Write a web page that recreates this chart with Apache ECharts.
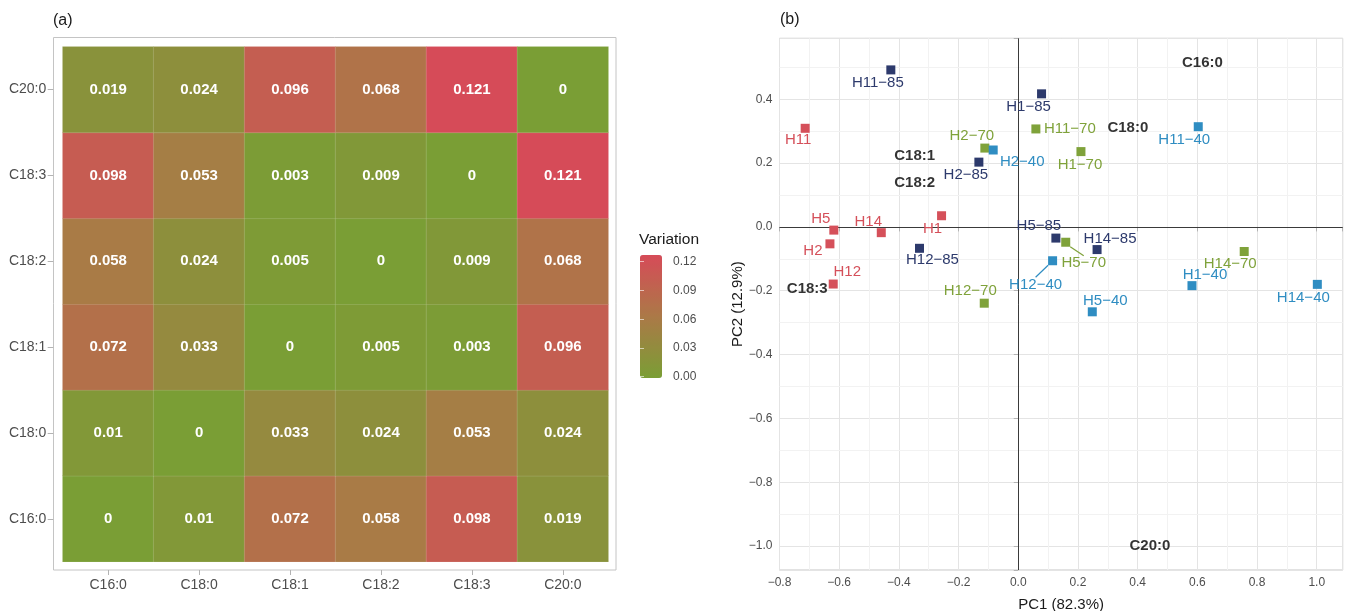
<!DOCTYPE html>
<html><head><meta charset="utf-8">
<script src="https://cdn.jsdelivr.net/npm/echarts@6/dist/echarts.min.js"></script>
<style>html,body{margin:0;padding:0;background:#fff}#c{width:1346px;height:611px}</style>
</head><body><div id="c"></div><script>
const FONT = "'Liberation Sans', Arial, Helvetica, sans-serif";

// ---------- Panel (a): variation heatmap ----------
const fattyAcids = ['C16:0', 'C18:0', 'C18:1', 'C18:2', 'C18:3', 'C20:0'];
// rows listed bottom -> top (same order as fattyAcids), columns left -> right
const rowC16_0 = [0, 0.01, 0.072, 0.058, 0.098, 0.019];
const rowC18_0 = [0.01, 0, 0.033, 0.024, 0.053, 0.024];
const rowC18_1 = [0.072, 0.033, 0, 0.005, 0.003, 0.096];
const rowC18_2 = [0.058, 0.024, 0.005, 0, 0.009, 0.068];
const rowC18_3 = [0.098, 0.053, 0.003, 0.009, 0, 0.121];
const rowC20_0 = [0.019, 0.024, 0.096, 0.068, 0.121, 0];
const variationRows = [rowC16_0, rowC18_0, rowC18_1, rowC18_2, rowC18_3, rowC20_0];
const variationMax = 0.121;
const variationTicks = [0, 0.03, 0.06, 0.09, 0.12];
const variationColors = ['#7A9E35', '#AB7947', '#D64B58'];

// ---------- Panel (b): PCA ----------
const rawNames = ['H11', 'H1', 'H5', 'H14', 'H2', 'H12'];
const rawPC1 = [-0.714, -0.257, -0.618, -0.459, -0.631, -0.620];
const rawPC2 = [0.309, 0.035, -0.010, -0.018, -0.053, -0.179];

const t85Names = ['H11\u221285', 'H1\u221285', 'H2\u221285', 'H12\u221285', 'H5\u221285', 'H14\u221285'];
const t85PC1 = [-0.427, 0.078, -0.132, -0.331, 0.126, 0.264];
const t85PC2 = [0.492, 0.417, 0.203, -0.067, -0.035, -0.071];

const t70Names = ['H11\u221270', 'H2\u221270', 'H1\u221270', 'H12\u221270', 'H5\u221270', 'H14\u221270'];
const t70PC1 = [0.059, -0.112, 0.210, -0.114, 0.159, 0.757];
const t70PC2 = [0.307, 0.247, 0.236, -0.239, -0.048, -0.077];

const t40Names = ['H2\u221240', 'H11\u221240', 'H12\u221240', 'H1\u221240', 'H14\u221240', 'H5\u221240'];
const t40PC1 = [-0.084, 0.603, 0.115, 0.582, 1.002, 0.248];
const t40PC2 = [0.241, 0.314, -0.106, -0.184, -0.180, -0.266];

const loadingNames = ['C16:0', 'C18:0', 'C18:1', 'C18:2', 'C18:3', 'C20:0'];
const loadingPC1 = [0.617, 0.367, -0.347, -0.347, -0.707, 0.441];
const loadingPC2 = [0.515, 0.311, 0.224, 0.139, -0.193, -1.0];

const pcXMinorTicks = [-0.7, -0.5, -0.3, -0.1, 0.1, 0.3, 0.5, 0.7, 0.9];
const pcYMinorTicks = [-0.9, -0.7, -0.5, -0.3, -0.1, 0.1, 0.3, 0.5];

// label placement (styling, pixel offsets of text from its point)
const labelOffsets = {
  'H11': [-7, 12], 'H1': [-9, 13], 'H5': [-13, -11], 'H14': [-13, -11], 'H2': [-17, 7], 'H12': [14, -12],
  'H11\u221285': [-13, 13], 'H1\u221285': [-13, 13], 'H2\u221285': [-13, 13], 'H12\u221285': [13, 12], 'H5\u221285': [-17, -12], 'H14\u221285': [13, -11],
  'H11\u221270': [34, 0], 'H2\u221270': [-13, -12], 'H1\u221270': [-1, 13], 'H12\u221270': [-14, -12], 'H5\u221270': [18, 21], 'H14\u221270': [-14, 12],
  'H2\u221240': [29, 12], 'H11\u221240': [-14, 13], 'H12\u221240': [-17, 24], 'H1\u221240': [13, -11], 'H14\u221240': [-14, 13], 'H5\u221240': [13, -11]
};
const segmentLabels = ['H5\u221270', 'H12\u221240'];

const heatData = [];
variationRows.forEach((row, yi) => row.forEach((v, xi) => heatData.push([xi, yi, v])));

function groupSeries(names, xs, ys, color) {
  return {
    type: 'scatter', xAxisIndex: 1, yAxisIndex: 1, z: 5,
    symbol: 'rect', symbolSize: 9,
    itemStyle: { color: color, opacity: 1 },
    data: names.map((n, i) => {
      const item = { name: n, value: [xs[i], ys[i]] };
      if (segmentLabels.indexOf(n) >= 0) {
        item.labelLine = { show: true, lineStyle: { color: color, width: 1.2, opacity: 1 } };
      }
      return item;
    }),
    label: {
      show: true, position: 'inside', formatter: p => p.name,
      color: color, fontSize: 15, fontFamily: FONT
    },
    labelLayout: p => {
      const n = names[p.dataIndex];
      const o = labelOffsets[n] || [0, 0];
      return { dx: o[0], dy: o[1] };
    },
    emphasis: { disabled: true }
  };
}

const pcTickFmt = v => {
  const k = v / 0.2;
  if (Math.abs(k - Math.round(k)) > 1e-6) return '';
  return v.toFixed(1).replace('-', '\u2212');
};

const axisGrey = '#4d4d4d';
const borderGrey = '#c4c4c4';
const majorGrid = '#e4e4e4';
const minorGrid = '#f2f2f2';

const chart = echarts.init(document.getElementById('c'), null, { renderer: 'canvas' });
chart.setOption({
  animation: false,
  backgroundColor: '#fff',
  textStyle: { fontFamily: FONT },
  title: [
    { text: '(a)', left: 53, top: 13, padding: 0, textStyle: { fontSize: 16, fontWeight: 'normal', color: '#1a1a1a', fontFamily: FONT } },
    { text: '(b)', left: 780, top: 12, padding: 0, textStyle: { fontSize: 16, fontWeight: 'normal', color: '#1a1a1a', fontFamily: FONT } },
    { text: 'Variation', left: 639, top: 232, padding: 0, textStyle: { fontSize: 15.5, fontWeight: 'normal', color: '#1a1a1a', fontFamily: FONT } }
  ],
  grid: [
    { left: 62.7, top: 46.7, width: 545.6, height: 515, outerBoundsMode: 'none', containLabel: false },
    { left: 779.5, top: 38.3, width: 563.2, height: 531.7, show: true, borderColor: borderGrey, borderWidth: 1, backgroundColor: 'transparent', outerBoundsMode: 'none', containLabel: false },
    { left: 640, top: 261.7, width: 22, height: 115, outerBoundsMode: 'none', containLabel: false }
  ],
  xAxis: [
    {
      gridIndex: 0, type: 'category', data: fattyAcids, position: 'bottom', offset: 8.3,
      axisLine: { show: false },
      axisTick: { show: true, alignWithLabel: true, length: 5, lineStyle: { color: '#b3b3b3' } },
      axisLabel: { margin: 8, fontSize: 14, color: axisGrey, fontFamily: FONT },
      splitLine: { show: false }
    },
    {
      gridIndex: 1, type: 'value', min: -0.8, max: 1.087, splitNumber: 9,
      name: 'PC1 (82.3%)', nameLocation: 'middle', nameGap: 27,
      nameTextStyle: { fontSize: 15, color: '#1a1a1a', fontFamily: FONT },
      axisLine: { show: false },
      axisTick: { show: true, length: 4.5, lineStyle: { color: '#b3b3b3' } },
      axisLabel: { margin: 7, fontSize: 12, color: axisGrey, fontFamily: FONT, formatter: pcTickFmt },
      splitLine: { show: true, lineStyle: { color: majorGrid, width: 1 } }
    },
    { gridIndex: 2, type: 'value', show: false, min: 0, max: 1 }
  ],
  yAxis: [
    {
      gridIndex: 0, type: 'category', data: fattyAcids, position: 'left', offset: 9.4,
      axisLine: { show: false },
      axisTick: { show: true, alignWithLabel: true, length: 5.6, lineStyle: { color: '#b3b3b3' } },
      axisLabel: { margin: 7, fontSize: 14, color: axisGrey, fontFamily: FONT },
      splitLine: { show: false }
    },
    {
      gridIndex: 1, type: 'value', min: -1.075, max: 0.591, splitNumber: 9,
      name: 'PC2 (12.9%)', nameLocation: 'middle', nameGap: 34,
      nameTextStyle: { fontSize: 15, color: '#1a1a1a', fontFamily: FONT },
      axisLine: { show: false },
      axisTick: { show: true, length: 4.5, lineStyle: { color: '#b3b3b3' } },
      axisLabel: { margin: 7, fontSize: 12, color: axisGrey, fontFamily: FONT, formatter: pcTickFmt },
      splitLine: { show: true, lineStyle: { color: majorGrid, width: 1 } }
    },
    {
      gridIndex: 2, type: 'value', min: 0, max: 0.12, interval: 0.03, position: 'right', z: 6,
      axisLine: { show: false },
      axisTick: { show: true, inside: true, length: 4, lineStyle: { color: 'rgba(255,255,255,0.6)' } },
      axisLabel: { margin: 11, fontSize: 12, color: axisGrey, fontFamily: FONT, formatter: v => v.toFixed(2) },
      splitLine: { show: false }
    },
    {
      gridIndex: 2, type: 'value', min: 0, max: 0.12, interval: 0.03, position: 'left', z: 6,
      axisLine: { show: false },
      axisTick: { show: true, inside: true, length: 4, lineStyle: { color: 'rgba(255,255,255,0.6)' } },
      axisLabel: { show: false },
      splitLine: { show: false }
    }
  ],
  visualMap: {
    type: 'continuous', seriesIndex: 0, min: 0, max: variationMax,
    show: true, calculable: false, hoverLink: false, padding: 0,
    left: 640, top: 255, itemWidth: 22, itemHeight: 123,
    text: null, showLabel: false,
    inRange: { color: variationColors }
  },
  graphic: [
    { type: 'rect', silent: true, z: 0, shape: { x: 53.5, y: 37.5, width: 562.5, height: 532.5 }, style: { fill: 'none', stroke: borderGrey, lineWidth: 1 } }
  ],
  series: [
    {
      type: 'heatmap', xAxisIndex: 0, yAxisIndex: 0, data: heatData,
      itemStyle: { borderColor: 'rgba(255,255,255,0.12)', borderWidth: 1 },
      label: { show: true, color: '#ffffff', fontWeight: 'bold', fontSize: 15, fontFamily: FONT, formatter: p => String(p.value[2]) },
      emphasis: { disabled: true }
    },
    {
      type: 'scatter', xAxisIndex: 1, yAxisIndex: 1, z: 1, silent: true, data: [],
      markLine: {
        silent: true, symbol: ['none', 'none'], animation: false,
        label: { show: false },
        lineStyle: { type: 'solid', width: 1, color: minorGrid },
        data: [].concat(
          pcXMinorTicks.map(v => ({ xAxis: v, lineStyle: { color: minorGrid, type: 'solid', width: 1 } })),
          pcYMinorTicks.map(v => ({ yAxis: v, lineStyle: { color: minorGrid, type: 'solid', width: 1 } }))
        )
      }
    },
    {
      type: 'scatter', xAxisIndex: 1, yAxisIndex: 1, z: 2, silent: true, data: [],
      markLine: {
        silent: true, symbol: ['none', 'none'], animation: false,
        label: { show: false },
        lineStyle: { type: 'solid', width: 1, color: '#3a3a3a' },
        data: [{ xAxis: 0 }, { yAxis: 0 }]
      }
    },
    groupSeries(rawNames, rawPC1, rawPC2, '#D5505A'),
    groupSeries(t85Names, t85PC1, t85PC2, '#2D3A6C'),
    groupSeries(t70Names, t70PC1, t70PC2, '#7FA23A'),
    groupSeries(t40Names, t40PC1, t40PC2, '#2F8DC2'),
    {
      type: 'scatter', xAxisIndex: 1, yAxisIndex: 1, z: 6, silent: true,
      symbolSize: 0,
      data: loadingNames.map((n, i) => ({ name: n, value: [loadingPC1[i], loadingPC2[i]] })),
      label: { show: true, position: 'inside', formatter: p => p.name, color: '#000', fontWeight: 'bold', fontSize: 15, fontFamily: FONT }
    }
  ]
});
</script></body></html>
